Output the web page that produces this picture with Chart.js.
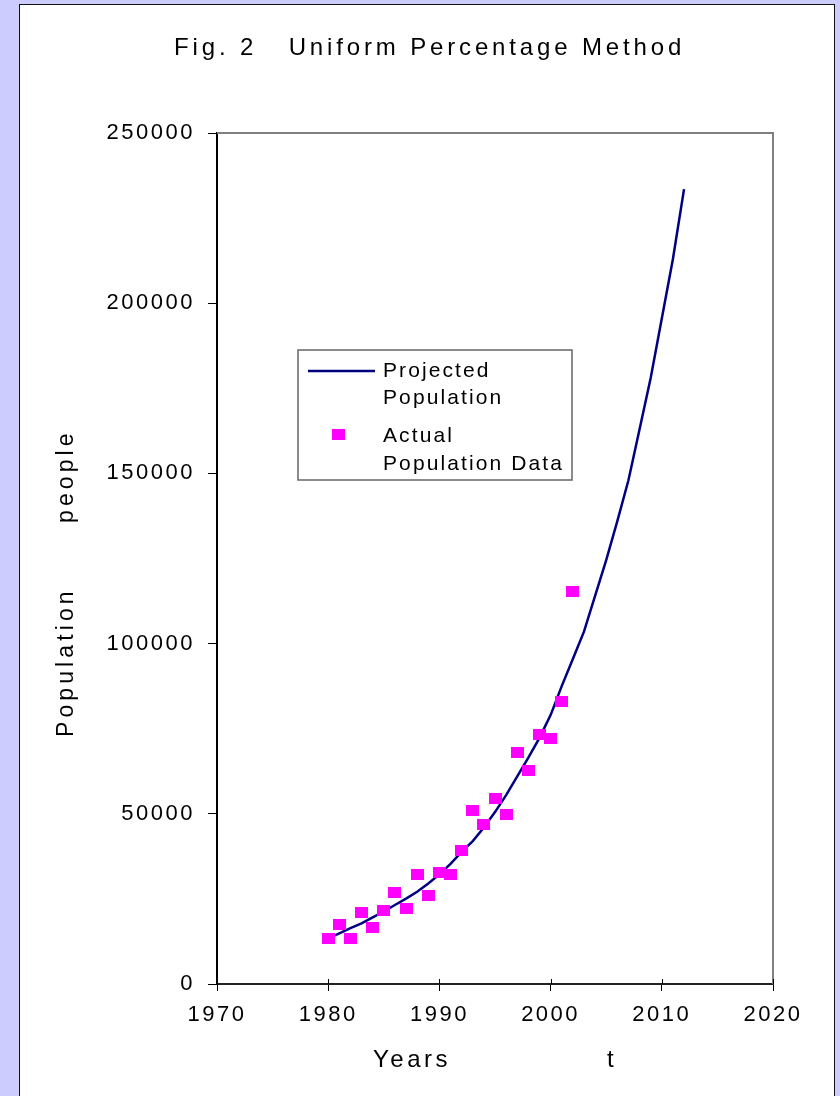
<!DOCTYPE html>
<html>
<head>
<meta charset="utf-8">
<script src="https://cdn.jsdelivr.net/npm/chart.js@4.4.1/dist/chart.umd.min.js"></script>
<style>
  html, body { margin: 0; padding: 0; background: #ccccff; overflow: hidden; }
  #panel { position: absolute; left: 19px; top: 4px; width: 816px; height: 1200px; background: #fff; border: 1.5px solid #111; box-sizing: border-box; }
  #c { position: absolute; left: 0; top: 0; }
</style>
</head>
<body>
<div id="panel"></div>
<canvas id="c" width="840" height="1096"></canvas>
<script>
const FONT = "'Liberation Sans', Arial, sans-serif";

// projected population (one value per year)
const projYears = [1980, 1981, 1982, 1983, 1984, 1985, 1986, 1987, 1988, 1989, 1990,
  1991, 1992, 1993, 1994, 1995, 1996, 1997, 1998, 1999, 2000,
  2001, 2002, 2003, 2004, 2005, 2006, 2007, 2008, 2009, 2010, 2011, 2012];
const projValues = [13400, 14900, 16400, 17800, 19600, 21300, 23200, 25100, 27100, 29500, 32200,
  35300, 38800, 42000, 46000, 50500, 55500, 61000, 66500, 72300, 79000,
  87500, 95500, 103500, 114000, 124500, 136000, 148000, 163000, 178000, 195500, 213000, 233500];

// actual population data
const actualYears = [1980, 1981, 1982, 1983, 1984, 1985, 1986, 1987, 1988, 1989, 1990,
  1991, 1992, 1993, 1994, 1995, 1996, 1997, 1998, 1999, 2000, 2001, 2002];
const actualValues = [13400, 17600, 13400, 21100, 16500, 21700, 27000, 22300, 32200, 25900, 32800,
  32200, 39300, 50900, 46900, 54400, 49800, 68000, 62700, 73300, 72100, 83100, 115200];

const xTicks = [1970, 1980, 1990, 2000, 2010, 2020];
const yTicks = [0, 50000, 100000, 150000, 200000, 250000];

const lineColor = '#000080';
const markColor = '#ff00ff';

// 13x11 magenta block used as the point marker
const mark = document.createElement('canvas');
mark.width = 13; mark.height = 11;
const mctx = mark.getContext('2d');
mctx.fillStyle = markColor;
mctx.fillRect(0, 0, 13, 11);

function spacedText(ctx, text, x, y, size, spacing) {
  ctx.font = size + 'px ' + FONT;
  ctx.letterSpacing = spacing + 'px';
  ctx.fillText(text, x, y);
}

const decorPlugin = {
  id: 'decor',
  beforeDraw(chart) {
    chart.ctx.letterSpacing = '2.5px';
  },
  beforeDatasetsDraw(chart) {
    const { ctx, chartArea: a } = chart;
    ctx.save();
    // grey frame on top and right
    ctx.strokeStyle = '#808080';
    ctx.lineWidth = 2;
    ctx.beginPath();
    ctx.moveTo(a.left, a.top);
    ctx.lineTo(a.right, a.top);
    ctx.lineTo(a.right, a.bottom);
    ctx.stroke();
    // x ticks also cross into the plot a little
    ctx.strokeStyle = '#000';
    ctx.lineWidth = 1;
    const xs = chart.scales.x;
    xTicks.forEach(v => {
      const px = Math.round(xs.getPixelForValue(v)) + 0.5;
      ctx.beginPath();
      ctx.moveTo(px, a.bottom);
      ctx.lineTo(px, a.bottom - 5);
      ctx.stroke();
    });
    ctx.restore();
  },
  afterDraw(chart) {
    const ctx = chart.ctx;
    ctx.save();
    ctx.fillStyle = '#000';
    ctx.textAlign = 'left';
    ctx.textBaseline = 'alphabetic';

    spacedText(ctx, 'Fig. 2   Uniform Percentage Method', 174, 55, 24, 3.85);

    spacedText(ctx, 'Years', 373, 1067, 24, 3.5);
    spacedText(ctx, 't', 607, 1067, 24, 3.5);

    ctx.save();
    ctx.translate(73, 737);
    ctx.rotate(-Math.PI / 2);
    spacedText(ctx, 'Population', 0, 0, 23, 4.1);
    spacedText(ctx, 'people', 214, 0, 23, 4.1);
    ctx.restore();

    // legend box
    ctx.fillStyle = '#fff';
    ctx.fillRect(298, 350, 274, 130);
    ctx.strokeStyle = '#666';
    ctx.lineWidth = 1.5;
    ctx.strokeRect(298, 350, 274, 130);

    const ds = chart.data.datasets;
    const proj = ds.find(d => d.id === 'proj');
    ctx.strokeStyle = proj.borderColor;
    ctx.lineWidth = proj.borderWidth;
    ctx.beginPath();
    ctx.moveTo(308, 371);
    ctx.lineTo(375, 371);
    ctx.stroke();

    const act = ds.find(d => d.id === 'act');
    ctx.drawImage(act.pointStyle, 338 - 6.5, 434 - 5.5);

    ctx.fillStyle = '#000';
    spacedText(ctx, 'Projected', 383, 377, 21, 2.1);
    spacedText(ctx, 'Population', 383, 404, 21, 2.1);
    spacedText(ctx, 'Actual', 383, 442, 21, 2.1);
    spacedText(ctx, 'Population Data', 383, 470, 21, 2.1);
    ctx.restore();
  }
};

new Chart(document.getElementById('c'), {
  type: 'scatter',
  data: {
    datasets: [
      {
        id: 'act',
        label: 'Actual Population Data',
        data: actualYears.map((y, i) => ({ x: y, y: actualValues[i] })),
        pointStyle: mark,
        pointRadius: 6,
        pointHoverRadius: 6,
        showLine: false,
        backgroundColor: markColor,
        borderColor: markColor,
        order: 0
      },
      {
        id: 'proj',
        label: 'Projected Population',
        data: projYears.map((y, i) => ({ x: y, y: projValues[i] })),
        showLine: true,
        borderColor: lineColor,
        borderWidth: 2.5,
        pointRadius: 0,
        tension: 0,
        order: 1
      }
    ]
  },
  options: {
    responsive: false,
    animation: false,
    devicePixelRatio: 1,
    layout: { padding: { left: 0, top: 133, right: 67, bottom: 72 } },
    plugins: {
      legend: { display: false },
      title: { display: false },
      tooltip: { enabled: false }
    },
    scales: {
      x: {
        type: 'linear',
        min: xTicks[0],
        max: xTicks[xTicks.length - 1],
        afterBuildTicks: s => { s.ticks = xTicks.map(v => ({ value: v })); },
        afterFit: s => { s.height = 40; },
        ticks: {
          color: '#000',
          font: { family: FONT, size: 22 },
          padding: 11,
          maxRotation: 0,
          autoSkip: false,
          callback: v => String(v)
        },
        grid: { drawOnChartArea: false, drawTicks: true, tickLength: 7, color: '#000', tickWidth: 1 },
        border: { display: true, color: '#222', width: 2 }
      },
      y: {
        type: 'linear',
        min: yTicks[0],
        max: yTicks[yTicks.length - 1],
        afterBuildTicks: s => { s.ticks = yTicks.map(v => ({ value: v })); },
        afterFit: s => { s.width = 217; },
        ticks: {
          color: '#000',
          font: { family: FONT, size: 22 },
          padding: 13,
          autoSkip: false,
          callback: v => String(v)
        },
        grid: { drawOnChartArea: false, drawTicks: true, tickLength: 9, color: '#000', tickWidth: 1 },
        border: { display: true, color: '#000', width: 2 }
      }
    }
  },
  plugins: [decorPlugin]
});
</script>
</body>
</html>
